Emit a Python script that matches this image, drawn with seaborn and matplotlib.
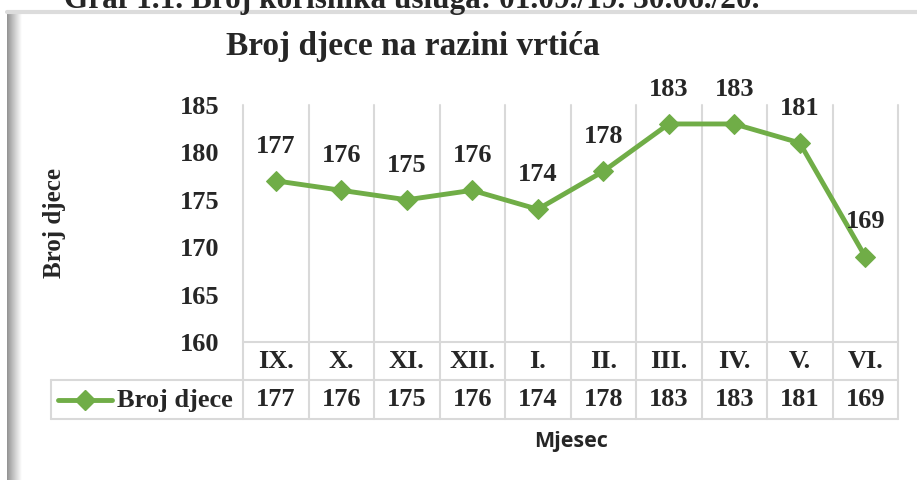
import numpy as np
import pandas as pd
import matplotlib
matplotlib.use("Agg")
import matplotlib.pyplot as plt
import matplotlib.transforms as mtransforms
from matplotlib.lines import Line2D
import seaborn as sns

# data
months = ["IX.", "X.", "XI.", "XII.", "I.", "II.", "III.", "IV.", "V.", "VI."]
children = [177, 176, 175, 176, 174, 178, 183, 183, 181, 169]
y_ticks = [160, 165, 170, 175, 180, 185]

series_name = "Broj djece"
chart_title = "Broj djece na razini vrtića"
caption = "Graf 1.1. Broj korisnika usluga: 01.09./19. 30.06./20."

sns.set_theme(style="white")
plt.rcParams["font.family"] = ["Liberation Serif", "DejaVu Serif"]

green = "#70AD47"
grid_c = "#d9d9d9"

W, H = 917, 480
fig = plt.figure(figsize=(W / 100, H / 100), dpi=100)


def fx(px):
    return px / W


def fy(py):
    return 1 - py / H


# frame: left shadow + top line
shadow = fig.add_axes([fx(7), 0, fx(15), fy(11)])
grad = np.linspace(0.5, 1.0, 64) ** 0.8
shadow.imshow(np.tile(grad, (2, 1)), cmap="gray", vmin=0, vmax=1, aspect="auto")
shadow.axis("off")
fig.add_artist(Line2D([fx(7), 1], [fy(12), fy(12)], color="#dcdcdc", lw=3))

# main plot area
left, right, top, bottom = 243, 898, 105, 342
ax = fig.add_axes([fx(left), fy(bottom), fx(right - left), (bottom - top) / H])

df = pd.DataFrame({"month": months, "value": children})
sns.lineplot(data=df, x="month", y="value", sort=False, ax=ax, color=green,
             lw=3.5, marker="D", markersize=10, markeredgecolor=green)

ax.set_xlim(-0.5, len(months) - 0.5)
ax.set_ylim(y_ticks[0], y_ticks[-1])
ax.set_xticks([])
ax.set_yticks(y_ticks)
ax.set_yticklabels([str(t) for t in y_ticks], fontsize=19, fontweight="bold")
ax.tick_params(axis="y", length=0, pad=17)
ax.set_xlabel("")
ax.set_ylabel("")
for s in ax.spines.values():
    s.set_visible(False)

# data labels
for i, v in enumerate(children):
    ax.annotate(str(v), (i, v), xytext=(0, 25), textcoords="offset points",
                ha="center", va="center", fontsize=19, fontweight="bold")

# data table
trans = mtransforms.blended_transform_factory(ax.transData, ax.transAxes)
h = bottom - top
row1 = -(380 - bottom) / h
row2 = -(419 - bottom) / h
leg_left = (51 - left) / (right - left)

for k in range(len(months) + 1):
    ax.plot([k - 0.5, k - 0.5], [1, row2], transform=trans, color=grid_c,
            lw=1.5, clip_on=False, zorder=0)
ax.plot([-0.5, len(months) - 0.5], [0, 0], transform=trans, color=grid_c,
        lw=1.5, clip_on=False, zorder=0)
for yy in (row1, row2):
    ax.plot([leg_left, 1], [yy, yy], transform=ax.transAxes, color=grid_c,
            lw=1.5, clip_on=False, zorder=0)
ax.plot([leg_left, leg_left], [row1, row2], transform=ax.transAxes,
        color=grid_c, lw=1.5, clip_on=False, zorder=0)

for i, (m, v) in enumerate(zip(months, children)):
    ax.text(i, row1 / 2, m, transform=trans, ha="center", va="center",
            fontsize=19, fontweight="bold")
    ax.text(i, (row1 + row2) / 2, str(v), transform=trans, ha="center",
            va="center", fontsize=19, fontweight="bold")

# legend key inside the table
ly = fy(400)
fig.add_artist(Line2D([fx(58), fx(112)], [ly, ly], color=green, lw=3.5))
fig.add_artist(Line2D([fx(85)], [ly], color=green, marker="D", markersize=10,
                      markeredgecolor=green))
fig.text(fx(117), ly, series_name, ha="left", va="center", fontsize=19,
         fontweight="bold")

# titles
fig.text(fx(413), fy(47), chart_title, ha="center", va="center", fontsize=24,
         fontweight="bold")
fig.text(fx(55), fy(223), series_name, ha="center", va="center", rotation=90,
         fontsize=18, fontweight="bold")
fig.text(fx(571), fy(441), "Mjesec", ha="center", va="center", fontsize=15.5,
         fontweight="bold", family=["Open Sans", "DejaVu Sans"])
fig.text(fx(64), fy(8), caption, ha="left", va="baseline", fontsize=22.5,
         fontweight="bold")

fig.savefig("out.png", dpi=100)
